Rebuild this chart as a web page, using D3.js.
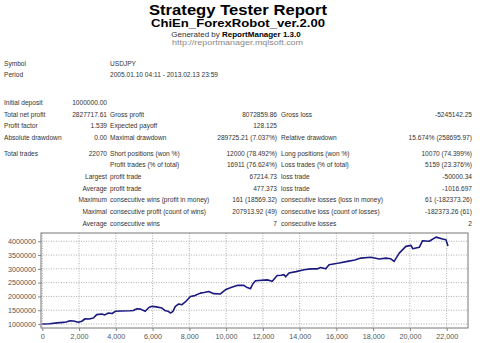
<!DOCTYPE html>
<html><head><meta charset="utf-8">
<script src="https://cdn.jsdelivr.net/npm/d3@7/dist/d3.min.js"></script>
<style>html,body{margin:0;padding:0;background:#fff;}svg{display:block;}</style>
</head><body>
<script>
// ---- data ----
const titleText = "Strategy Tester Report";
const subtitleText = "ChiEn_ForexRobot_ver.2.00";
const generatorPrefix = "Generated by ";
const generatorName = "ReportManager 1.3.0";
const urlText = "http://reportmanager.mqlsoft.com";

const headerRows = [
  ["Symbol", "USDJPY"],
  ["Period", "2005.01.10 04:11 - 2013.02.13 23:59"]
];
const statRows = [
  ["Initial deposit", "1000000.00", "", "", "", ""],
  ["Total net profit", "2827717.61", "Gross profit", "8072859.86", "Gross loss", "-5245142.25"],
  ["Profit factor", "1.539", "Expected payoff", "128.125", "", ""],
  ["Absolute drawdown", "0.00", "Maximal drawdown", "289725.21 (7.037%)", "Relative drawdown", "15.674% (258695.97)"],
  ["Total trades", "22070", "Short positions (won %)", "12000 (78.492%)", "Long positions (won %)", "10070 (74.399%)"],
  ["", "", "Profit trades (% of total)", "16911 (76.624%)", "Loss trades (% of total)", "5159 (23.376%)"],
  ["", "Largest", "profit trade", "67214.73", "loss trade", "-50000.34"],
  ["", "Average", "profit trade", "477.373", "loss trade", "-1016.697"],
  ["", "Maximum", "consecutive wins (profit in money)", "161 (18569.32)", "consecutive losses (loss in money)", "61 (-182373.26)"],
  ["", "Maximal", "consecutive profit (count of wins)", "207913.92 (49)", "consecutive loss (count of losses)", "-182373.26 (61)"],
  ["", "Average", "consecutive wins", "7", "consecutive losses", "2"]
];

const trades = [0,400,800,1145,1300,1510,1700,1960,2150,2330,2550,2780,2960,3240,3400,3600,3800,3970,4300,4780,4950,5150,5350,5600,5800,5970,6200,6510,6700,6850,6970,7100,7240,7420,7600,7780,8060,8300,8600,8800,9050,9330,9690,9960,10300,10600,10960,11150,11330,11450,11600,12240,12510,12780,13000,13150,13240,13420,13800,14240,14600,14970,15150,15420,15600,16150,16600,17000,17330,17870,18330,18690,18960,19140,19420,19780,20060,20150,20510,20690,21050,21420,21780,21960,22070];
const equity = [1000000,1010000,1040000,1060000,1070000,1120000,1110000,1060000,1100000,1190000,1180000,1217000,1340000,1360000,1330000,1400000,1380000,1460000,1470000,1480000,1490000,1555000,1540000,1460000,1600000,1640000,1620000,1580000,1480000,1460000,1400000,1450000,1640000,1725000,1700000,1800000,2000000,2030000,2120000,2140000,2180000,2100000,2090000,2240000,2330000,2400000,2400000,2320000,2280000,2450000,2570000,2600000,2550000,2760000,2770000,2790000,2710000,2850000,2900000,2970000,3000000,3000000,3050000,3000000,3150000,3210000,3270000,3320000,3390000,3420000,3355000,3390000,3365000,3270000,3570000,3815000,3850000,3730000,3780000,4020000,4000000,4150000,4080000,4055000,3827717];

const xTicks = [0,2000,4000,6000,8000,10000,12000,14000,16000,18000,20000,22000];
const yTicks = [1000000,1500000,2000000,2500000,3000000,3500000,4000000];

// ---- drawing ----
const W = 480, H = 343;
const svg = d3.select("body").append("svg").attr("width", W).attr("height", H);
const font = "'Liberation Sans', Arial, sans-serif";

svg.append("text").attr("x", 238).attr("y", 15).attr("text-anchor", "middle")
  .attr("font-family", font).attr("font-weight", "bold").attr("font-size", 15)
  .attr("textLength", 178).attr("lengthAdjust", "spacingAndGlyphs").attr("fill", "#000").text(titleText);
svg.append("text").attr("x", 238).attr("y", 26.5).attr("text-anchor", "middle")
  .attr("font-family", font).attr("font-weight", "bold").attr("font-size", 11.5)
  .attr("textLength", 174).attr("lengthAdjust", "spacingAndGlyphs").attr("fill", "#000").text(subtitleText);
const gen = svg.append("text").attr("x", 236).attr("y", 36.5).attr("text-anchor", "middle")
  .attr("font-family", font).attr("font-size", 8).attr("fill", "#333");
gen.append("tspan").text(generatorPrefix);
gen.append("tspan").attr("font-weight", "bold").attr("fill", "#000").text(generatorName);
svg.append("text").attr("x", 237.5).attr("y", 45).attr("text-anchor", "middle")
  .attr("font-family", font).attr("font-size", 8).attr("fill", "#888")
  .attr("textLength", 131).attr("lengthAdjust", "spacingAndGlyphs").text(urlText);

const tfs = 6.6, tcol = "#333";
const headerY = [66, 77];
headerRows.forEach((r, i) => {
  svg.append("text").attr("x", 4).attr("y", headerY[i]).attr("font-family", font).attr("font-size", tfs).attr("fill", tcol).text(r[0]);
  svg.append("text").attr("x", 110).attr("y", headerY[i]).attr("font-family", font).attr("font-size", tfs).attr("fill", tcol).text(r[1]);
});
const statY = [105, 116.5, 128, 140, 155.5, 167, 179, 190.5, 202, 214, 225.5];
const colX = [4, 107, 110, 277, 281, 472];
const colAnchor = ["start", "end", "start", "end", "start", "end"];
statRows.forEach((r, i) => {
  r.forEach((t, j) => {
    if (!t) return;
    svg.append("text").attr("x", colX[j]).attr("y", statY[i]).attr("text-anchor", colAnchor[j])
      .attr("font-family", font).attr("font-size", tfs).attr("fill", tcol).text(t);
  });
});

// chart
const L = 41, R = 468, T = 233, B = 328;
const x = d3.scaleLinear().domain([-70, 23160]).range([L, R]);
const y = d3.scaleLinear().domain([855000, 4300000]).range([B, T]);

const g = svg.append("g");
g.selectAll("line.vg").data(xTicks).join("line").attr("class", "vg")
  .attr("x1", d => x(d)).attr("x2", d => x(d)).attr("y1", T).attr("y2", B)
  .attr("stroke", "#999").attr("stroke-width", 0.8).attr("stroke-dasharray", "1,1.5");
g.selectAll("line.hg").data(yTicks).join("line").attr("class", "hg")
  .attr("x1", L).attr("x2", R).attr("y1", d => y(d)).attr("y2", d => y(d))
  .attr("stroke", "#999").attr("stroke-width", 0.8).attr("stroke-dasharray", "1,1.5");

const yAxis = d3.axisLeft(y).tickValues(yTicks).tickFormat(d3.format("d")).tickSize(3).tickPadding(2);
const ya = svg.append("g").attr("transform", `translate(${L},0)`).call(yAxis);
ya.select(".domain").remove();
ya.selectAll("line").attr("stroke", "#888");
ya.selectAll("text").attr("font-family", font).attr("font-size", 7.2).attr("fill", "#555");

const xAxis = d3.axisBottom(x).tickValues(xTicks).tickFormat(d3.format(",")).tickSize(3).tickPadding(2.5);
const xa = svg.append("g").attr("transform", `translate(0,${B})`).call(xAxis);
xa.select(".domain").remove();
xa.selectAll("line").attr("stroke", "#888");
xa.selectAll("text").attr("font-family", font).attr("font-size", 7.2).attr("fill", "#555");

svg.append("rect").attr("x", L).attr("y", T).attr("width", R - L).attr("height", B - T)
  .attr("fill", "none").attr("stroke", "#777").attr("stroke-width", 1);

const pts = trades.map((t, i) => [t, equity[i]]);
svg.append("path").datum(pts)
  .attr("d", d3.line().x(d => x(d[0])).y(d => y(d[1])))
  .attr("fill", "none").attr("stroke", "#1a1a80").attr("stroke-width", 1.6).attr("stroke-linejoin", "round");
</script>
</body></html>
